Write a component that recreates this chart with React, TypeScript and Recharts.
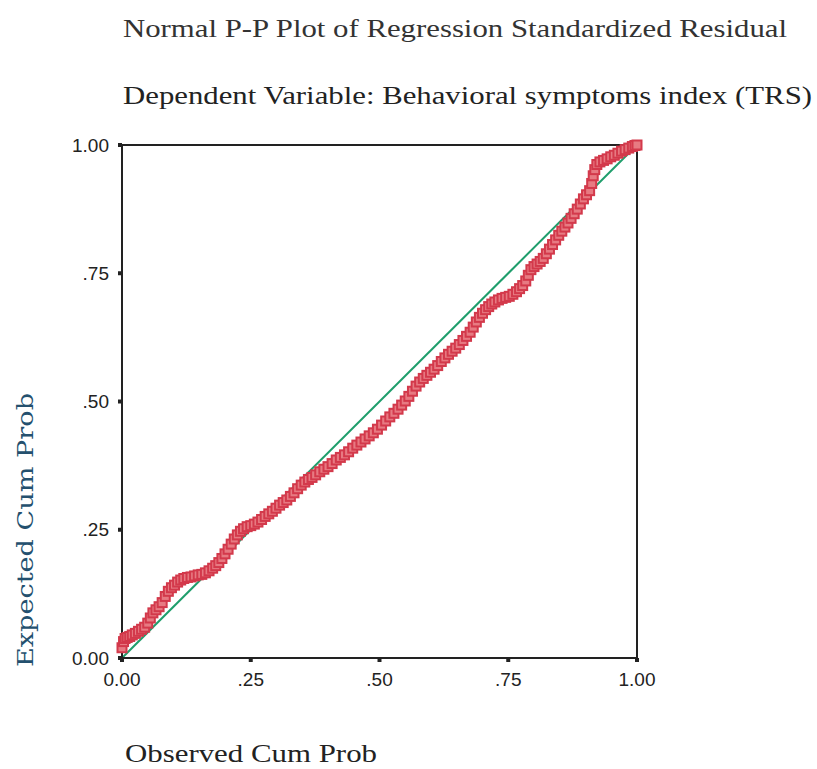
import React from "react";
import { ScatterChart, Scatter, XAxis, YAxis, ReferenceLine } from "recharts";

const observedCumProb = [
  0.000, 0.003, 0.006, 0.010, 0.015, 0.020, 0.026, 0.032, 0.038, 0.044, 0.050, 0.055, 0.060, 0.066, 0.072, 0.078,
  0.084, 0.090, 0.096, 0.102, 0.108, 0.114, 0.120, 0.127, 0.134, 0.141, 0.148, 0.155, 0.162, 0.169, 0.176, 0.182,
  0.188, 0.194, 0.200, 0.206, 0.212, 0.218, 0.224, 0.230, 0.236, 0.243, 0.250, 0.257, 0.264, 0.271, 0.278, 0.285,
  0.292, 0.299, 0.306, 0.313, 0.320, 0.327, 0.334, 0.341, 0.348, 0.355, 0.362, 0.369, 0.376, 0.384, 0.392, 0.400,
  0.408, 0.416, 0.424, 0.432, 0.440, 0.448, 0.456, 0.464, 0.472, 0.480, 0.488, 0.496, 0.504, 0.512, 0.520, 0.528,
  0.536, 0.543, 0.550, 0.557, 0.564, 0.571, 0.578, 0.585, 0.592, 0.599, 0.606, 0.613, 0.620, 0.627, 0.634, 0.641,
  0.648, 0.655, 0.662, 0.669, 0.676, 0.682, 0.688, 0.694, 0.700, 0.706, 0.712, 0.718, 0.724, 0.731, 0.738, 0.745,
  0.752, 0.759, 0.766, 0.772, 0.778, 0.784, 0.789, 0.794, 0.800, 0.806, 0.812, 0.818, 0.824, 0.830, 0.836, 0.842,
  0.848, 0.854, 0.860, 0.866, 0.872, 0.878, 0.884, 0.890, 0.896, 0.902, 0.908, 0.912, 0.915, 0.918, 0.922, 0.928,
  0.935, 0.942, 0.949, 0.956, 0.963, 0.970, 0.977, 0.984, 0.991, 0.996, 1.000,
];

const expectedCumProb = [
  0.020, 0.032, 0.038, 0.040, 0.042, 0.045, 0.048, 0.052, 0.056, 0.060, 0.068, 0.078, 0.088, 0.094, 0.100, 0.108,
  0.120, 0.130, 0.137, 0.142, 0.148, 0.152, 0.155, 0.157, 0.158, 0.160, 0.162, 0.163, 0.166, 0.170, 0.175, 0.180,
  0.186, 0.194, 0.203, 0.212, 0.222, 0.232, 0.240, 0.247, 0.252, 0.256, 0.258, 0.261, 0.265, 0.270, 0.276, 0.281,
  0.286, 0.292, 0.298, 0.303, 0.308, 0.315, 0.322, 0.330, 0.337, 0.343, 0.348, 0.352, 0.357, 0.363, 0.368, 0.373,
  0.379, 0.386, 0.391, 0.396, 0.402, 0.409, 0.415, 0.421, 0.427, 0.433, 0.439, 0.446, 0.454, 0.462, 0.470, 0.477,
  0.485, 0.493, 0.501, 0.510, 0.520, 0.530, 0.538, 0.545, 0.551, 0.557, 0.563, 0.570, 0.578, 0.585, 0.592, 0.598,
  0.604, 0.611, 0.619, 0.627, 0.635, 0.645, 0.655, 0.664, 0.672, 0.679, 0.685, 0.690, 0.694, 0.698, 0.701, 0.703,
  0.705, 0.709, 0.714, 0.720, 0.726, 0.735, 0.746, 0.757, 0.763, 0.768, 0.773, 0.779, 0.788, 0.797, 0.806, 0.815,
  0.824, 0.832, 0.840, 0.848, 0.857, 0.866, 0.875, 0.885, 0.895, 0.903, 0.911, 0.925, 0.940, 0.952, 0.962, 0.967,
  0.970, 0.973, 0.977, 0.980, 0.984, 0.988, 0.991, 0.994, 0.997, 0.999, 1.000,
];

const axisTicks = [0, 0.25, 0.5, 0.75, 1];
const tickLabels = ["0.00", ".25", ".50", ".75", "1.00"];

const titleLine1 = "Normal P-P Plot of Regression Standardized Residual";
const titleLine2 = "Dependent Variable: Behavioral symptoms index (TRS)";
const xAxisTitle = "Observed Cum Prob";
const yAxisTitle = "Expected Cum Prob";

const data = observedCumProb.map((o, i) => ({ obs: o, exp: expectedCumProb[i] }));

const fmt = (v: number) => {
  const i = axisTicks.indexOf(v);
  return i >= 0 ? tickLabels[i] : String(v);
};

const SquareMarker = (props: any) => {
  const { cx, cy } = props;
  if (cx == null || cy == null) return null;
  return (
    <rect
      x={cx - 4.5}
      y={cy - 4.5}
      width={9}
      height={9}
      fill="#e77a82"
      stroke="#d3394b"
      strokeWidth={2}
    />
  );
};

const tickStyle = { fontSize: 19, fill: "#222", fontFamily: "Liberation Sans, Arial, sans-serif" };
const serif = "Liberation Serif, Times New Roman, Times, serif";

export default function App() {
  return (
    <div style={{ position: "absolute", left: 0, top: 0, width: 817, height: 769, background: "#fff" }}>
      <div style={{ position: "absolute", left: 0, top: 0 }}>
        <ScatterChart width={817} height={769} margin={{ top: 145, right: 180, bottom: 71, left: 0 }}>
          <XAxis
            type="number"
            dataKey="obs"
            domain={[0, 1]}
            ticks={axisTicks}
            tickFormatter={fmt}
            height={40}
            tickSize={4}
            tickMargin={11}
            axisLine={{ stroke: "#222", strokeWidth: 2 }}
            tickLine={{ stroke: "#222", strokeWidth: 4 }}
            tick={tickStyle}
            interval={0}
          />
          <YAxis
            type="number"
            dataKey="exp"
            domain={[0, 1]}
            ticks={axisTicks}
            tickFormatter={fmt}
            width={122}
            tickSize={4}
            tickMargin={9}
            axisLine={{ stroke: "#222", strokeWidth: 2 }}
            tickLine={{ stroke: "#222", strokeWidth: 4 }}
            tick={tickStyle}
            interval={0}
          />
          <ReferenceLine y={1} stroke="#222" strokeWidth={2} />
          <ReferenceLine x={1} stroke="#222" strokeWidth={2} />
          <ReferenceLine
            segment={[{ x: 0, y: 0 }, { x: 1, y: 1 }]}
            stroke="#1f9e6c"
            strokeWidth={2}
          />
          <Scatter data={data} shape={SquareMarker} isAnimationActive={false} />
        </ScatterChart>
      </div>
      <svg
        width={817}
        height={769}
        style={{ position: "absolute", left: 0, top: 0, pointerEvents: "none" }}
      >
        <text
          x={123}
          y={37}
          fontSize={26}
          fill="#333"
          fontFamily={serif}
          textLength={664}
          lengthAdjust="spacingAndGlyphs"
        >
          {titleLine1}
        </text>
        <text
          x={123}
          y={104}
          fontSize={26}
          fill="#222"
          fontFamily={serif}
          textLength={689}
          lengthAdjust="spacingAndGlyphs"
        >
          {titleLine2}
        </text>
        <text
          x={125}
          y={762}
          fontSize={26}
          fill="#222"
          fontFamily={serif}
          textLength={252}
          lengthAdjust="spacingAndGlyphs"
        >
          {xAxisTitle}
        </text>
        <text
          x={0}
          y={0}
          transform="translate(33, 667) rotate(-90)"
          fontSize={23}
          fill="#24506e"
          fontFamily="DejaVu Serif, Georgia, serif"
          textLength={274}
          lengthAdjust="spacingAndGlyphs"
        >
          {yAxisTitle}
        </text>
      </svg>
    </div>
  );
}
